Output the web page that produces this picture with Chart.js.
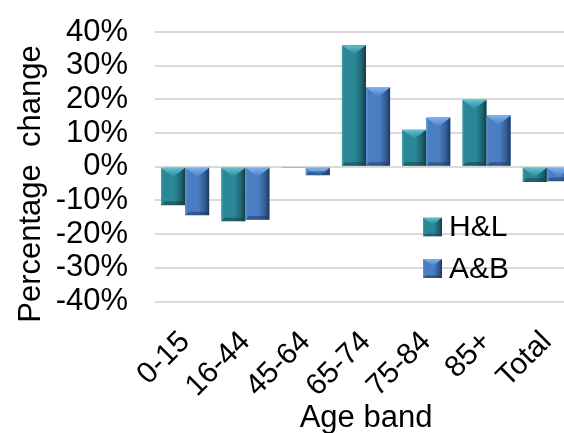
<!DOCTYPE html>
<html>
<head>
<meta charset="utf-8">
<script src="https://cdn.jsdelivr.net/npm/chart.js@4/dist/chart.umd.min.js"></script>
<style>
  html, body { margin: 0; padding: 0; background: #fff; overflow: hidden; width: 564px; height: 433px; }
  #wrap { position: relative; width: 577px; height: 433px; }
</style>
</head>
<body>
<div id="wrap"><canvas id="c" width="577" height="433"></canvas></div>
<script>
// Percentage change by age band, two areas
const ageBands = ['0-15', '16-44', '45-64', '65-74', '75-84', '85+', 'Total'];
const hlChange = [-11.4, -16.2, -0.4, 36.1, 11.0, 19.9, -4.5];
const abChange = [-14.4, -15.7, -2.5, 23.5, 14.6, 15.2, -4.3];
const seriesNames = ['H&L', 'A&B'];
const yTickValues = [-40, -30, -20, -10, 0, 10, 20, 30, 40];
const yTickLabels = ['-40%', '-30%', '-20%', '-10%', '0%', '10%', '20%', '30%', '40%'];
const yTitle = 'Percentage  change';
const xTitle = 'Age band';

const FONT = "'Liberation Sans', Arial, Helvetica, sans-serif";

// bevelled bar palettes
const palettes = [
  { base: '#2a8796', light: '#63c3d2', edge: '#3d9eac', shade: '#1f6470', dark: '#143a42' },
  { base: '#4a7dc2', light: '#7fb2f0', edge: '#5f92d6', shade: '#345c93', dark: '#1e355a' }
];

function bevelRect(ctx, left, top, w, h, pal) {
  if (w <= 0 || h <= 0) return;
  const right = left + w, bottom = top + h, cx = left + w / 2;
  ctx.save();
  ctx.beginPath();
  ctx.rect(left, top, w, h);
  ctx.clip();
  const g = ctx.createLinearGradient(left, 0, right, 0);
  g.addColorStop(0, pal.edge);
  g.addColorStop(0.1, pal.base);
  g.addColorStop(0.55, pal.base);
  g.addColorStop(0.82, pal.shade);
  g.addColorStop(1, pal.dark);
  ctx.fillStyle = g;
  ctx.fillRect(left, top, w, h);
  // upper facet
  const d = w * 0.38;
  ctx.beginPath();
  ctx.moveTo(left, top);
  ctx.lineTo(right, top);
  ctx.lineTo(cx, top + d);
  ctx.closePath();
  const tg = ctx.createLinearGradient(0, top, 0, top + d);
  tg.addColorStop(0, pal.light);
  tg.addColorStop(1, pal.base);
  ctx.fillStyle = tg;
  ctx.fill();
  // lower facet
  const e = Math.min(w * 0.15, h / 2);
  ctx.beginPath();
  ctx.moveTo(left, bottom);
  ctx.lineTo(right, bottom);
  ctx.lineTo(right - e, bottom - e);
  ctx.lineTo(left + e, bottom - e);
  ctx.closePath();
  ctx.globalAlpha = 0.5;
  ctx.fillStyle = pal.dark;
  ctx.fill();
  ctx.restore();
}

const bevelPlugin = {
  id: 'bevel',
  afterDatasetsDraw(chart) {
    const ctx = chart.ctx;
    chart.data.datasets.forEach((ds, i) => {
      const meta = chart.getDatasetMeta(i);
      meta.data.forEach(el => {
        const p = el.getProps(['x', 'y', 'base', 'width'], true);
        const top = Math.min(p.y, p.base);
        const h = Math.abs(p.base - p.y);
        bevelRect(ctx, p.x - p.width / 2, top, p.width, h, palettes[i]);
      });
    });
  }
};

// axis titles and legend
const decorPlugin = {
  id: 'decor',
  afterDraw(chart) {
    const ctx = chart.ctx;
    const area = chart.chartArea;
    ctx.save();
    ctx.fillStyle = '#000';
    ctx.font = '31px ' + FONT;
    // y title
    ctx.save();
    ctx.translate(39.5, 184);
    ctx.rotate(-Math.PI / 2);
    ctx.textAlign = 'center';
    ctx.textBaseline = 'alphabetic';
    ctx.fillText(yTitle, 0, 0);
    ctx.restore();
    // x title
    ctx.textAlign = 'center';
    ctx.textBaseline = 'alphabetic';
    ctx.fillText(xTitle, (area.left + area.right) / 2, 427);
    // legend
    const legendRows = [227, 268.5];
    ctx.font = '30px ' + FONT;
    ctx.textAlign = 'left';
    ctx.textBaseline = 'middle';
    seriesNames.forEach((name, i) => {
      const cy = legendRows[i];
      bevelRect(ctx, 423, cy - 9.5, 19, 19, palettes[i]);
      ctx.fillStyle = '#000';
      ctx.fillText(name, 449, cy + 1);
    });
    ctx.restore();
  }
};

new Chart(document.getElementById('c'), {
  type: 'bar',
  data: {
    labels: ageBands,
    datasets: [
      { label: seriesNames[0], data: hlChange, backgroundColor: palettes[0].base, borderWidth: 0,
        barPercentage: 1.0, categoryPercentage: 0.8 },
      { label: seriesNames[1], data: abChange, backgroundColor: palettes[1].base, borderWidth: 0,
        barPercentage: 1.0, categoryPercentage: 0.8 }
    ]
  },
  options: {
    responsive: false,
    animation: false,
    layout: { padding: { top: 32, right: 0, left: 0, bottom: 0 } },
    plugins: { legend: { display: false }, tooltip: { enabled: false }, title: { display: false } },
    scales: {
      x: {
        grid: { display: false },
        border: { display: false },
        ticks: {
          color: '#000',
          font: { size: 30, family: FONT },
          minRotation: 45,
          maxRotation: 45,
          autoSkip: false,
          padding: 15
        },
        afterFit(scale) {
          scale.height = 131.5;
          scale.paddingLeft = 0;
          scale.paddingRight = 0;
        }
      },
      y: {
        min: -40,
        max: 40,
        grid: { color: '#d9d9d9', lineWidth: 2, drawTicks: false },
        border: { display: false },
        ticks: {
          stepSize: 10,
          autoSkip: false,
          color: '#000',
          padding: 27,
          font: { size: 31, family: FONT },
          callback: (v) => {
            const k = yTickValues.indexOf(v);
            return k >= 0 ? yTickLabels[k] : '';
          }
        },
        afterFit(scale) {
          scale.width = 155;
          scale.paddingTop = 0;
          scale.paddingBottom = 0;
        }
      }
    }
  },
  plugins: [bevelPlugin, decorPlugin]
});
</script>
</body>
</html>
